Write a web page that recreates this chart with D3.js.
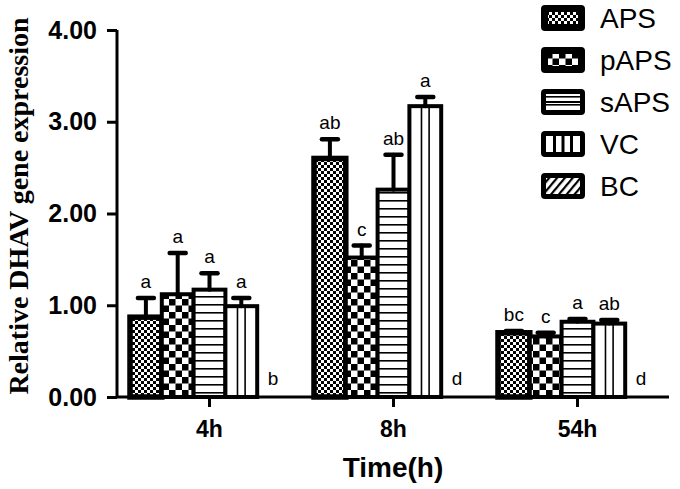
<!DOCTYPE html>
<html>
<head>
<meta charset="utf-8">
<script src="https://cdn.jsdelivr.net/npm/d3@7"></script>
<style>
  html, body { margin: 0; padding: 0; background: #fff; }
  svg { display: block; }
</style>
</head>
<body>
<svg id="chart" width="680" height="489"></svg>
<script>
// ---- data ----
const groups = ["4h", "8h", "54h"];
const series = ["APS", "pAPS", "sAPS", "VC", "BC"];
const meanAPS  = [0.87, 2.60, 0.70];
const meanPAPS = [1.12, 1.52, 0.66];
const meanSAPS = [1.17, 2.26, 0.82];
const meanVC   = [0.99, 3.17, 0.80];
const meanBC   = [0.00, 0.00, 0.00];
const errAPS  = [0.21, 0.21, 0.02];
const errPAPS = [0.45, 0.13, 0.04];
const errSAPS = [0.18, 0.38, 0.03];
const errVC   = [0.09, 0.10, 0.04];
const errBC   = [0, 0, 0];
const letAPS  = ["a", "ab", "bc"];
const letPAPS = ["a", "c", "c"];
const letSAPS = ["a", "ab", "a"];
const letVC   = ["a", "a", "ab"];
const letBC   = ["b", "d", "d"];
const yTicks = [0, 1, 2, 3, 4];
const yTitle = "Relative DHAV gene expression";
const xTitle = "Time(h)";

const means = [meanAPS, meanPAPS, meanSAPS, meanVC, meanBC];
const errs = [errAPS, errPAPS, errSAPS, errVC, errBC];
const lets = [letAPS, letPAPS, letSAPS, letVC, letBC];

const rows = [];
groups.forEach((g, gi) => series.forEach((s, si) => rows.push({
  g, s, si, v: means[si][gi], e: errs[si][gi], l: lets[si][gi]
})));

const svg = d3.select("#chart");
const defs = svg.append("defs");

// patterns
const pAPS = defs.append("pattern").attr("id", "p-APS").attr("patternUnits", "userSpaceOnUse")
  .attr("width", 6).attr("height", 6);
pAPS.append("rect").attr("width", 6).attr("height", 6).attr("fill", "#fff");
pAPS.append("rect").attr("width", 3).attr("height", 3).attr("fill", "#000");
pAPS.append("rect").attr("x", 3).attr("y", 3).attr("width", 3).attr("height", 3).attr("fill", "#000");

const pP = defs.append("pattern").attr("id", "p-pAPS").attr("patternUnits", "userSpaceOnUse")
  .attr("width", 13).attr("height", 13);
pP.append("rect").attr("width", 13).attr("height", 13).attr("fill", "#fff");
pP.append("rect").attr("width", 6.5).attr("height", 6.5).attr("fill", "#000");
pP.append("rect").attr("x", 6.5).attr("y", 6.5).attr("width", 6.5).attr("height", 6.5).attr("fill", "#000");

const pS = defs.append("pattern").attr("id", "p-sAPS").attr("patternUnits", "userSpaceOnUse")
  .attr("width", 8).attr("height", 8);
pS.append("rect").attr("width", 8).attr("height", 8).attr("fill", "#fff");
pS.append("rect").attr("y", 0).attr("width", 8).attr("height", 1.6).attr("fill", "#000");

const pB = defs.append("pattern").attr("id", "p-BC").attr("patternUnits", "userSpaceOnUse")
  .attr("width", 6).attr("height", 6).attr("patternTransform", "rotate(40)");
pB.append("rect").attr("width", 6).attr("height", 6).attr("fill", "#fff");
pB.append("rect").attr("width", 2.2).attr("height", 6).attr("fill", "#000");

const fillOf = s => s === "VC" ? "#fff" : `url(#p-${s})`;

// scales
const y = d3.scaleLinear().domain([0, 4]).range([397, 30]);
const x0 = d3.scaleBand().domain(groups).range([117, 670])
  .paddingInner(25 / 184).paddingOuter(13 / 184);
const x1 = d3.scaleBand().domain(series).range([0, x0.bandwidth()]);
const bw = x1.bandwidth();

// bars
const bars = svg.append("g");
rows.filter(d => d.v > 0).forEach(d => {
  const bx = x0(d.g) + x1(d.s);
  const g = bars.append("g");
  g.append("rect")
    .attr("x", bx).attr("y", y(d.v))
    .attr("width", bw).attr("height", y(0) - y(d.v))
    .attr("fill", fillOf(d.s))
    .attr("stroke", "#000").attr("stroke-width", d.s === "APS" ? 5.5 : 4);
  if (d.s === "VC") {
    [0.38, 0.62].forEach(f => {
      g.append("line")
        .attr("x1", bx + bw * f).attr("x2", bx + bw * f)
        .attr("y1", y(d.v)).attr("y2", y(0))
        .attr("stroke", "#000").attr("stroke-width", 1.6);
    });
  }
});

// error bars
const eb = svg.append("g").attr("stroke", "#000").attr("stroke-linecap", "round");
rows.filter(d => d.e > 0).forEach(d => {
  const cx = x0(d.g) + x1(d.s) + bw / 2;
  eb.append("line").attr("x1", cx).attr("x2", cx)
    .attr("y1", y(d.v)).attr("y2", y(d.v + d.e)).attr("stroke-width", 4);
  eb.append("line").attr("x1", cx - 8).attr("x2", cx + 8)
    .attr("y1", y(d.v + d.e)).attr("y2", y(d.v + d.e)).attr("stroke-width", 4.5);
});

// significance letters
svg.append("g").selectAll("text").data(rows).join("text")
  .attr("x", d => x0(d.g) + x1(d.s) + bw / 2)
  .attr("y", d => y(d.v + d.e) - (d.v > 0 ? 10 : 12))
  .attr("text-anchor", "middle")
  .attr("font-family", "Liberation Sans, Arial, sans-serif")
  .attr("font-size", 19)
  .text(d => d.l);

// axes
const yAxis = d3.axisLeft(y).tickValues(yTicks).tickFormat(d3.format(".2f"))
  .tickSize(10).tickPadding(10);
const ya = svg.append("g").attr("transform", "translate(117,0)").call(yAxis);
ya.select(".domain").attr("stroke-width", 3).attr("d", `M0,${y(4)}V${y(0)}`);
ya.selectAll(".tick line").attr("stroke-width", 3);
ya.selectAll("text").attr("font-family", "Liberation Sans, Arial, sans-serif")
  .attr("font-weight", "bold").attr("font-size", 25).attr("fill", "#000");

const xAxis = d3.axisBottom(x0).tickSize(10).tickPadding(14);
const xa = svg.append("g").attr("transform", `translate(0,${y(0)})`).call(xAxis);
xa.select(".domain").attr("stroke-width", 3).attr("d", "M116,0H669");
xa.selectAll(".tick line").attr("stroke-width", 3);
xa.selectAll("text").attr("font-family", "Liberation Sans, Arial, sans-serif")
  .attr("font-weight", "bold").attr("font-size", 23).attr("fill", "#000");

// titles
svg.append("text").attr("x", 393).attr("y", 477).attr("text-anchor", "middle")
  .attr("font-family", "Liberation Sans, Arial, sans-serif").attr("font-weight", "bold")
  .attr("font-size", 28).text(xTitle);

svg.append("text").attr("transform", "translate(28,206) rotate(-90)")
  .attr("text-anchor", "middle")
  .attr("font-family", "Liberation Serif, 'Times New Roman', serif").attr("font-weight", "bold")
  .attr("font-size", 28).text(yTitle);

// legend
const lg = svg.append("g");
series.forEach((s, i) => {
  const cy = 18 + i * 42;
  const r = lg.append("g");
  r.append("rect").attr("x", 541).attr("y", cy - 13).attr("width", 44).attr("height", 26)
    .attr("rx", 4).attr("fill", "#000");
  const inset = (s === "APS" || s === "pAPS") ? 7 : 5;
  r.append("rect").attr("x", 541 + inset).attr("y", cy - 13 + inset)
    .attr("width", 44 - 2 * inset).attr("height", 26 - 2 * inset)
    .attr("fill", fillOf(s));
  if (s === "VC") {
    [0.25, 0.5, 0.75].forEach(f => {
      r.append("line").attr("x1", 546 + 34 * f).attr("x2", 546 + 34 * f)
        .attr("y1", cy - 8).attr("y2", cy + 8).attr("stroke", "#000").attr("stroke-width", 3);
    });
  }
  if (s === "sAPS") {
    r.append("line").attr("x1", 546).attr("x2", 580).attr("y1", cy).attr("y2", cy)
      .attr("stroke", "#000").attr("stroke-width", 2);
  }
  r.append("text").attr("x", 600).attr("y", cy + 10)
    .attr("font-family", "Liberation Sans, Arial, sans-serif").attr("font-size", 28).text(s);
});
</script>
</body>
</html>
